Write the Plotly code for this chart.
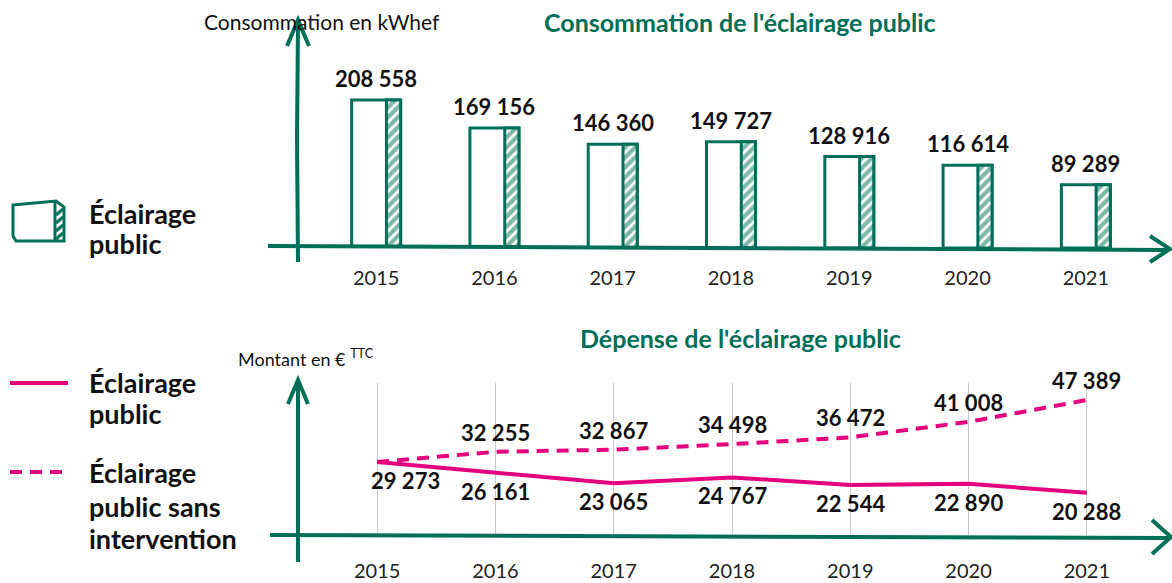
import plotly.graph_objects as go

years = [2015, 2016, 2017, 2018, 2019, 2020, 2021]
conso_kwhef = [208558, 169156, 146360, 149727, 128916, 116614, 89289]
depense_ep = [29273, 26161, 23065, 24767, 22544, 22890, 20288]
depense_sans = [29273, 32255, 32867, 34498, 36472, 41008, 47389]

W, H = 1172, 583
GREEN = "#006f58"
PINK = "#e5007d"
FONT = "Lato"


def fx(x):
    return x / W


def fy(y):
    return 1 - y / H


def fmt(v):
    return f"{v:,}".replace(",", " ")


fig = go.Figure()
fig.add_trace(go.Bar(
    x=years, y=conso_kwhef, width=0.414, offset=-0.207,
    marker=dict(color="white", line=dict(color=GREEN, width=3)),
    xaxis="x", yaxis="y", hoverinfo="skip", showlegend=False))
fig.add_trace(go.Bar(
    x=years, y=conso_kwhef, width=0.12, offset=0.087,
    marker=dict(color="white", line=dict(color=GREEN, width=3),
                pattern=dict(shape="/", fgcolor=GREEN, bgcolor="white",
                             size=7, solidity=0.6)),
    xaxis="x", yaxis="y", name="Éclairage public", showlegend=False))
fig.add_trace(go.Scatter(
    x=years, y=depense_sans, mode="lines",
    line=dict(color=PINK, width=4, dash="12px,8px"),
    xaxis="x2", yaxis="y2", name="Éclairage public sans intervention",
    showlegend=False))
fig.add_trace(go.Scatter(
    x=years, y=depense_ep, mode="lines",
    line=dict(color=PINK, width=4),
    xaxis="x2", yaxis="y2", name="Éclairage public", showlegend=False))

ann = []
lab_font = dict(family=FONT, size=22, color="#111111", weight="bold")
for yr, v in zip(years, conso_kwhef):
    ann.append(dict(x=yr, y=v, xref="x", yref="y", text=fmt(v), showarrow=False,
                    xanchor="center", yanchor="bottom", yshift=6, font=lab_font))
for yr, v in list(zip(years, depense_sans))[1:]:
    ann.append(dict(x=yr, y=v, xref="x2", yref="y2", text=fmt(v), showarrow=False,
                    xanchor="center", yanchor="bottom", yshift=4, font=lab_font))
for i, (yr, v) in enumerate(zip(years, depense_ep)):
    ann.append(dict(x=yr, y=v, xref="x2", yref="y2", text=fmt(v), showarrow=False,
                    xanchor="center", yanchor="top", yshift=-3,
                    xshift=28 if i == 0 else 0, font=lab_font))


def txt(x, y, text, font, xanchor="center"):
    return dict(x=fx(x), y=fy(y), xref="paper", yref="paper", showarrow=False,
                xanchor=xanchor, yanchor="middle", text=text, font=font)


title_font = dict(family=FONT, size=25, color=GREEN, weight="bold")
ann += [
    txt(740, 22, "Consommation de l'éclairage public", title_font),
    txt(740, 338, "Dépense de l'éclairage public", title_font),
    txt(322, 22, "Consommation en kWhef", dict(family=FONT, size=21, color="#111111")),
    txt(236, 358, "Montant en € <sup>TTC</sup>", dict(family=FONT, size=18, color="#111111"),
        xanchor="left"),
]
leg_font = dict(family=FONT, size=27, color="#111111", weight="bold")
for y, t in [(213, "Éclairage"), (243, "public"),
             (382, "Éclairage"), (413, "public"),
             (472, "Éclairage"), (506, "public sans"), (538, "intervention")]:
    ann.append(txt(87, y, t, leg_font, xanchor="left"))


def path(points):
    return "M " + " L ".join(f"{fx(a):.5f},{fy(b):.5f}" for a, b in points)


ax_line = dict(color=GREEN, width=4)
shapes = [
    # top axes
    dict(type="path", xref="paper", yref="paper", path=path([(298, 262), (297, 140), (298, 22)]), line=ax_line),
    dict(type="path", xref="paper", yref="paper", path=path([(287, 46), (298, 20), (309, 46)]), line=ax_line),
    dict(type="path", xref="paper", yref="paper", path=path([(268, 246), (700, 248), (1168, 250)]), line=ax_line),
    dict(type="path", xref="paper", yref="paper", path=path([(1150, 236), (1170, 249), (1150, 262)]), line=ax_line),
    # bottom axes
    dict(type="path", xref="paper", yref="paper", path=path([(298, 562), (298, 382)]), line=ax_line),
    dict(type="path", xref="paper", yref="paper", path=path([(288, 404), (298, 380), (308, 404)]), line=ax_line),
    dict(type="path", xref="paper", yref="paper", path=path([(270, 535), (1170, 538)]), line=ax_line),
    dict(type="path", xref="paper", yref="paper", path=path([(1152, 520), (1171, 537), (1152, 554)]), line=ax_line),
    # legend icons
    dict(type="path", xref="paper", yref="paper",
         path=path([(13, 205), (56, 201), (64, 207), (64, 241), (16, 241), (13, 236)]) + " Z",
         line=dict(color=GREEN, width=3), fillcolor="white"),
    dict(type="path", xref="paper", yref="paper", path=path([(55, 202), (55, 240)]),
         line=dict(color=GREEN, width=3)),
    dict(type="line", xref="paper", yref="paper", x0=fx(10), x1=fx(68), y0=fy(383), y1=fy(383),
         line=dict(color=PINK, width=4)),
    dict(type="line", xref="paper", yref="paper", x0=fx(10), x1=fx(68), y0=fy(472), y1=fy(472),
         line=dict(color=PINK, width=4, dash="12px,8px")),
]
for yy in (212, 220, 228, 236):
    shapes.append(dict(type="line", xref="paper", yref="paper", x0=fx(56), x1=fx(63),
                       y0=fy(yy + 3), y1=fy(yy - 3), line=dict(color=GREEN, width=3)))

tick_font = dict(family=FONT, size=20, color="#222222")
fig.update_layout(
    width=W, height=H, margin=dict(l=0, r=0, t=0, b=0),
    paper_bgcolor="white", plot_bgcolor="white",
    barmode="overlay", showlegend=False,
    annotations=ann, shapes=shapes,
    xaxis=dict(domain=[fx(317), fx(1145)], range=[2014.5, 2021.5],
               tickmode="array", tickvals=years, ticktext=[str(y) for y in years],
               showgrid=False, zeroline=False, showline=False, ticks="",
               tickfont=tick_font, ticklabelstandoff=16, anchor="y"),
    yaxis=dict(domain=[fy(248), fy(20)], range=[0, 321300], visible=False,
               anchor="x"),
    xaxis2=dict(domain=[fx(318), fx(1146)], range=[2014.5, 2021.5],
                tickmode="array", tickvals=years, ticktext=[str(y) for y in years],
                showgrid=True, gridcolor="#c8c8c8", gridwidth=1, zeroline=False,
                showline=False, ticks="", tickfont=tick_font,
                ticklabelstandoff=22, anchor="y2"),
    yaxis2=dict(domain=[fy(535), fy(383)], range=[7928, 52372], visible=False,
                anchor="x2"),
)
fig.write_html("out.html", config={"displayModeBar": False},
               post_script="document.body.style.margin='0';")
